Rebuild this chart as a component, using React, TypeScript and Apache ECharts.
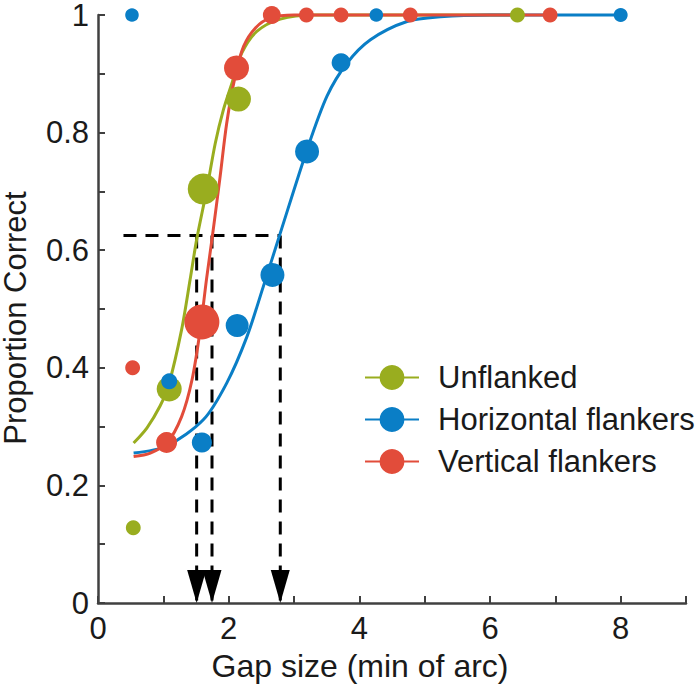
import React, { useEffect, useRef } from "react";
import * as echarts from "echarts";

// ---------- data ----------
const unflankedX = [0.54, 1.09, 1.61, 2.15, 6.42];
const unflankedY = [0.128, 0.364, 0.704, 0.857, 1.0];
const unflankedN = [18, 51, 78, 51, 18];

const horizontalX = [0.52, 1.09, 1.59, 2.13, 2.67, 3.2, 3.72, 4.26, 8.0];
const horizontalY = [1.0, 0.377, 0.273, 0.472, 0.558, 0.768, 0.919, 1.0, 1.0];
const horizontalN = [15, 21, 33, 43, 47, 47, 29, 15, 16];

const verticalX = [0.53, 1.05, 1.59, 2.12, 2.66, 3.19, 3.72, 4.78, 6.92];
const verticalY = [0.4, 0.273, 0.478, 0.91, 1.0, 1.0, 1.0, 1.0, 1.0];
const verticalN = [18, 36, 100, 51, 26, 18, 18, 18, 18];

// fitted curves
const unflankedFitX = [0.545, 0.75, 0.95, 1.08, 1.28, 1.41, 1.51, 1.67, 1.795, 1.92, 2.05, 2.2, 2.43, 2.79, 3.3, 4.5, 6.42];
const unflankedFitY = [0.272, 0.298, 0.335, 0.37, 0.465, 0.55, 0.618, 0.706, 0.782, 0.839, 0.884, 0.935, 0.972, 0.993, 1.0, 1.0, 1.0];

const horizontalFitX = [0.545, 1.05, 1.615, 1.97, 2.28, 2.53, 2.79, 3.2, 3.505, 3.81, 4.17, 4.73, 5.24, 6.0, 7.0, 8.0];
const horizontalFitY = [0.255, 0.267, 0.312, 0.374, 0.453, 0.538, 0.629, 0.771, 0.862, 0.918, 0.958, 0.989, 0.997, 1.0, 1.0, 1.0];

const verticalFitX = [0.545, 0.8, 1.055, 1.28, 1.44, 1.565, 1.66, 1.75, 1.87, 1.97, 2.1, 2.23, 2.41, 2.64, 3.0, 4.5, 6.92];
const verticalFitY = [0.249, 0.255, 0.272, 0.317, 0.38, 0.465, 0.55, 0.623, 0.726, 0.816, 0.896, 0.947, 0.978, 0.995, 1.0, 1.0, 1.0];

const thresholdLevel = 0.625;
const thresholds = [1.51, 1.745, 2.79];
const thresholdLineStart = 0.39;

const seriesNames = ["Unflanked", "Horizontal flankers", "Vertical flankers"];
const xTicks = [0, 2, 4, 6, 8];

// ---------- styles ----------
const COLORS = ["#99AD1F", "#0A7EC6", "#E24C3A"];
const FONT = "Liberation Sans, Arial, Helvetica, sans-serif";
const AXIS_COLOR = "#404040";
const TEXT_COLOR = "#1a1a1a";
const sizeFromN = (n: number) => 3.5 * Math.sqrt(n);

export default function App() {
  const ref = useRef<HTMLDivElement>(null);

  useEffect(() => {
    document.body.style.margin = "0";
    if (!ref.current) return;
    const chart = echarts.init(ref.current, undefined, { renderer: "svg" });

    const groups = [
      { x: unflankedX, y: unflankedY, n: unflankedN, fx: unflankedFitX, fy: unflankedFitY },
      { x: horizontalX, y: horizontalY, n: horizontalN, fx: horizontalFitX, fy: horizontalFitY },
      { x: verticalX, y: verticalY, n: verticalN, fx: verticalFitX, fy: verticalFitY },
    ];

    const dashStyle = { color: "#000", width: 3, type: [13, 9] as any };

    const series: any[] = [];
    series.push({
      type: "line",
      data: [
        [thresholdLineStart, thresholdLevel],
        [Math.max(...thresholds), thresholdLevel],
      ],
      symbol: "none",
      lineStyle: dashStyle,
      silent: true,
      clip: false,
      z: 1,
    });
    thresholds.forEach((t) => {
      series.push({
        type: "line",
        data: [
          [t, thresholdLevel],
          [t, 0],
        ],
        symbol: "none",
        lineStyle: dashStyle,
        silent: true,
        clip: false,
        z: 1,
      });
    });
    series.push({
      type: "scatter",
      data: thresholds.map((t) => [t, 0]),
      symbol: "triangle",
      symbolRotate: 180,
      symbolSize: [19, 33],
      symbolOffset: [0, "-50%"],
      itemStyle: { color: "#000", opacity: 1 },
      silent: true,
      clip: false,
      z: 1,
    });

    groups.forEach((g, i) => {
      series.push({
        name: seriesNames[i],
        type: "line",
        data: g.fx.map((x, k) => [x, g.fy[k]]),
        symbol: "circle",
        showSymbol: false,
        smooth: 0.3,
        lineStyle: { color: COLORS[i], width: 3 },
        itemStyle: { color: COLORS[i] },
        clip: false,
        z: 2,
      });
      series.push({
        name: seriesNames[i],
        type: "scatter",
        data: g.x.map((x, k) => ({ value: [x, g.y[k]], symbolSize: sizeFromN(g.n[k]) })),
        symbol: "circle",
        itemStyle: { color: COLORS[i], opacity: 1 },
        clip: false,
        z: 2,
      });
    });

    chart.setOption({
      animation: false,
      grid: { left: 98, top: 15, width: 588, height: 588, outerBoundsMode: "none", containLabel: false },
      legend: {
        data: seriesNames,
        orient: "vertical",
        left: 359,
        top: 357,
        itemWidth: 54,
        itemHeight: 31,
        itemGap: 11,
        textStyle: { fontSize: 31, color: TEXT_COLOR, fontFamily: FONT, padding: [0, 0, 0, 14] },
      },
      xAxis: {
        type: "value",
        min: 0,
        max: 9,
        interval: 1,
        name: "Gap size (min of arc)",
        nameLocation: "middle",
        nameGap: 47,
        nameTextStyle: { fontSize: 32, color: TEXT_COLOR, fontFamily: FONT, padding: [0, 64, 0, 0] },
        axisLine: { lineStyle: { color: AXIS_COLOR, width: 2.5 } },
        axisTick: { inside: true, length: 7, lineStyle: { color: AXIS_COLOR, width: 2 } },
        axisLabel: {
          formatter: (v: number) => (xTicks.includes(v) ? String(v) : ""),
          fontSize: 31,
          color: TEXT_COLOR,
          fontFamily: FONT,
          margin: 10,
        },
        splitLine: { show: false },
      },
      yAxis: {
        type: "value",
        min: 0,
        max: 1,
        interval: 0.2,
        name: "Proportion Correct",
        nameLocation: "middle",
        nameGap: 70,
        nameTextStyle: { fontSize: 31, lineHeight: 26, color: TEXT_COLOR, fontFamily: FONT, padding: [0, 18, 0, 0] },
        axisLine: { lineStyle: { color: AXIS_COLOR, width: 2.5 } },
        axisTick: { inside: true, length: 7, lineStyle: { color: AXIS_COLOR, width: 2 } },
        minorTick: { show: true, splitNumber: 2, length: 7, lineStyle: { color: AXIS_COLOR, width: 2 } },
        axisLabel: {
          formatter: (v: number) => String(+v.toFixed(1)),
          fontSize: 31,
          lineHeight: 24,
          color: TEXT_COLOR,
          fontFamily: FONT,
          margin: 9,
        },
        splitLine: { show: false },
      },
      series,
    });

    return () => chart.dispose();
  }, []);

  return <div ref={ref} style={{ width: 700, height: 687 }} />;
}
